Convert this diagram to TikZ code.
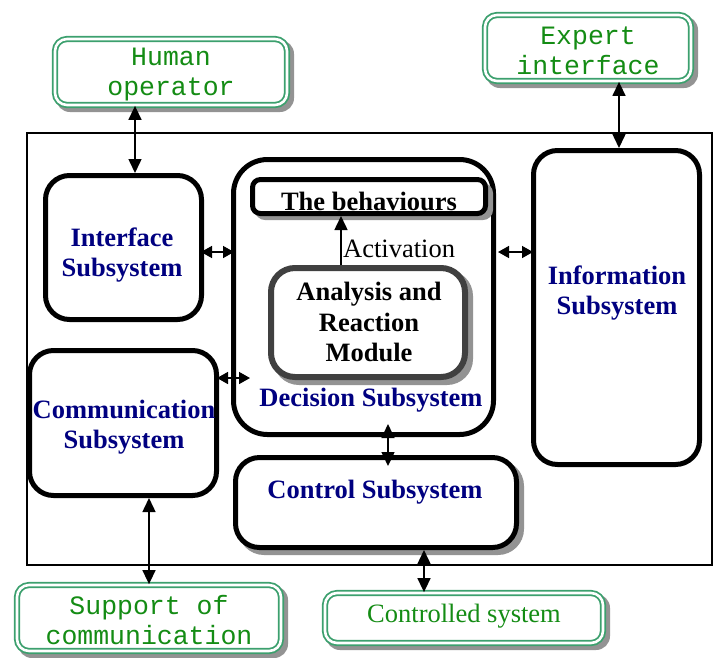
\documentclass[tikz,border=0pt]{standalone}
\usepackage{fontspec}
\setmainfont{Liberation Serif}
\newfontfamily\couriertype{Liberation Mono}
\usetikzlibrary{arrows.meta,calc}
\definecolor{framegreen}{RGB}{60,160,110}
\definecolor{textgreen}{RGB}{20,140,20}
\definecolor{subblue}{RGB}{0,0,128}
\definecolor{modgray}{RGB}{64,64,64}
\tikzset{
  extbox/.style={draw=framegreen, double=white, double distance=2.6pt, line width=1.8pt,
    rounded corners=12pt, fill=white, inner sep=0pt},
  exttext/.style={font=\couriertype\fontsize{26.5}{30}\selectfont, text=textgreen, align=center},
  subbox/.style={draw=black, line width=5pt, rounded corners=24pt, fill=white, inner sep=0pt},
  shadowfill/.style={fill=gray!85, draw=none, inner sep=0pt, rounded corners=14pt},
  sublabel/.style={font=\bfseries\fontsize{26.5}{30}\selectfont, text=subblue, align=center},
  blacklabel/.style={font=\bfseries\fontsize{26.5}{30.5}\selectfont, text=black, align=center},
  link/.style={line width=1.5pt, {Triangle[length=14pt,width=13pt]}-{Triangle[length=14pt,width=13pt]}},
  shortlink/.style={line width=1.5pt, {Triangle[length=11pt,width=12pt]}-{Triangle[length=11pt,width=12pt]}},
  onelink/.style={line width=1.5pt, -{Triangle[length=14pt,width=13pt]}}
}
\begin{document}
\begin{tikzpicture}[x=1pt,y=-1pt]
\useasboundingbox (0,0) rectangle (717,657);

% outer frame of the system
\draw[line width=1.5pt] (27,133) rectangle (712,565);

% external parties: gray offset shadow, then the double green frame
\node[shadowfill, minimum width=238pt, minimum height=72pt] (human-sh) at (175,76) {};
\node[extbox, minimum width=232pt, minimum height=66pt] (human) at (171,72) {};
\node[exttext] (human-t) at (171,75) {Human\\operator};

\node[shadowfill, minimum width=212pt, minimum height=72pt] (expert-sh) at (592,52) {};
\node[extbox, minimum width=206pt, minimum height=66pt] (expert) at (588,48) {};
\node[exttext] (expert-t) at (588,51) {Expert\\interface};

\node[shadowfill, minimum width=270pt, minimum height=72pt] (support-sh) at (153,622) {};
\node[extbox, minimum width=264pt, minimum height=66pt] (support) at (149,618) {};
\node[exttext] (support-t) at (149,620.5) {Support of\\communication};

\node[shadowfill, minimum width=284pt, minimum height=56pt] (controlled-sh) at (468,622) {};
\node[extbox, minimum width=278pt, minimum height=50pt] (controlled) at (464,618) {};
\node[exttext, font=\fontsize{26.5}{30}\selectfont] (controlled-t) at (464,616) {Controlled system};

% subsystems
\node[subbox, minimum width=156pt, minimum height=144pt] (iface) at (123.5,247.5) {};
\node[subbox, minimum width=187pt, minimum height=145pt] (comm) at (123,423) {};
\node[subbox, minimum width=260pt, minimum height=275pt, rounded corners=34pt] (decision) at (363.5,297) {};
\node[subbox, minimum width=166pt, minimum height=314pt] (info) at (616.5,307.5) {};
\node[shadowfill, rounded corners=26pt, minimum width=286pt, minimum height=95pt] (control-sh) at (381,507.5) {};
\node[subbox, minimum width=281pt, minimum height=90pt] (control) at (376,502.5) {};

% inside the decision subsystem
\node[shadowfill, rounded corners=10pt, minimum width=238pt, minimum height=37pt] (behav-sh) at (374,201.5) {};
\node[subbox, rounded corners=8pt, minimum width=233pt, minimum height=34pt] (behav) at (369,196.5) {};
\node[shadowfill, rounded corners=26pt, minimum width=200pt, minimum height=115pt] (analysis-sh) at (373,327.5) {};
\node[subbox, draw=modgray, line width=6pt, minimum width=194pt, minimum height=109pt] (analysis) at (368,322.5) {};

% labels
\node[sublabel] (iface-t) at (122,255) {Interface\\Subsystem};
\node[sublabel] (comm-t) at (124,427) {Communication\\Subsystem};
\node[sublabel] (decision-t) at (371,400) {Decision Subsystem};
\node[sublabel] (info-t) at (617,293) {Information\\Subsystem};
\node[sublabel] (control-t) at (375,492) {Control Subsystem};
\node[blacklabel] (behav-t) at (369,201) {The behaviours};
\node[blacklabel] (analysis-t) at (369,322) {Analysis and\\Reaction\\Module};

% activation of the behaviours
\draw[onelink] (341,0 |- analysis.north) -- (341,0 |- behav.south);
\node[anchor=west, inner sep=0pt, font=\fontsize{26.5}{30}\selectfont] (activation) at (343,249) {Activation};

% exchanges between the parts
\draw[link] (135,0 |- human.south) -- (135,0 |- iface.north);
\draw[link] (619,0 |- expert.south) -- (619,0 |- info.north);
\draw[shortlink] ($(iface.east |- 0,252)+(-3,0)$) -- ($(decision.west |- 0,252)+(3,0)$);
\draw[shortlink] ($(comm.east |- 0,378)+(-2,0)$) -- ($(decision.west |- 0,378)+(19,0)$);
\draw[shortlink] ($(decision.east |- 0,252)+(2,0)$) -- ($(info.west |- 0,252)+(2,0)$);
\draw[link] ($(388,0 |- decision.south)+(0,-13)$) -- ($(388,0 |- control.north)+(0,11)$);
\draw[link] (424,0 |- control.south) -- (424,0 |- controlled.north);
\draw[link] (149,0 |- comm.south) -- (149,0 |- support.north);
\end{tikzpicture}
\end{document}
